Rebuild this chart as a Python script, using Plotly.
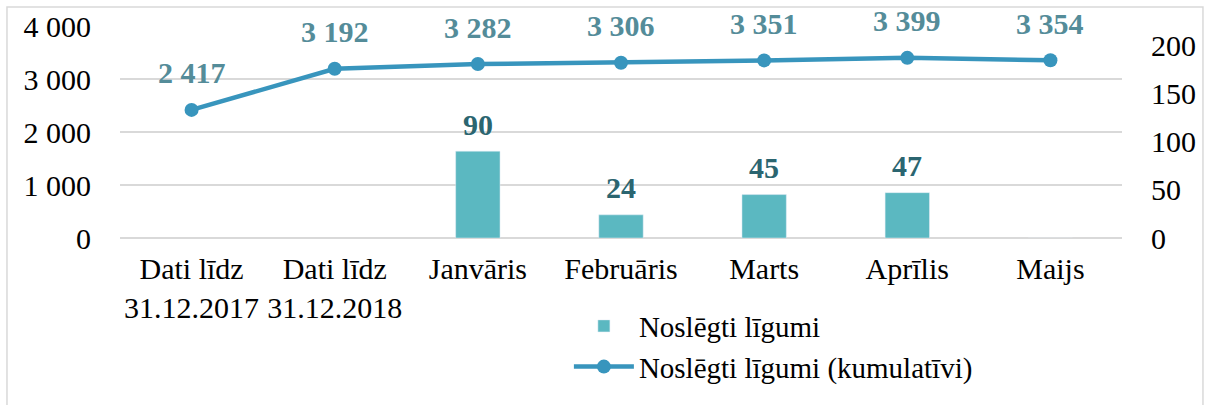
import plotly.graph_objects as go

categories = ["Dati līdz<br>31.12.2017", "Dati līdz<br>31.12.2018", "Janvāris",
              "Februāris", "Marts", "Aprīlis", "Maijs"]
monthly = [None, None, 90, 24, 45, 47, -1]
monthly_labels = ["", "", "90", "24", "45", "47", ""]
cumulative = [2417, 3192, 3282, 3306, 3351, 3399, 3354]
left_ticks = [0, 1000, 2000, 3000, 4000]
right_ticks = [0, 50, 100, 150, 200]

FONT = "Liberation Serif, Times New Roman, serif"
BAR_C = "#5bb8c1"
LINE_C = "#3895bd"
GRID_C = "#d9d9d9"

def fmt(v):
    return f"{v:,}".replace(",", "\u00a0")

fig = go.Figure()
fig.add_trace(go.Bar(
    x=categories, y=monthly, name="Noslēgti līgumi", marker_color=BAR_C,
    width=0.31, yaxis="y2",
))
fig.add_trace(go.Scatter(
    x=categories, y=cumulative, name="Noslēgti līgumi (kumulatīvi)",
    mode="lines+markers", line=dict(color=LINE_C, width=4.5),
    marker=dict(size=14, color=LINE_C), yaxis="y",
))

annotations = []
for c, v in zip(categories, cumulative):
    annotations.append(dict(x=c, y=v, xref="x", yref="y", text=f"<b>{fmt(v)}</b>",
                            showarrow=False, yshift=37,
                            font=dict(family=FONT, size=30, color="#548c99")))
for c, v, t in zip(categories, monthly, monthly_labels):
    if t:
        annotations.append(dict(x=c, y=v, xref="x", yref="y2", text=f"<b>{t}</b>",
                                showarrow=False, yshift=27,
                                font=dict(family=FONT, size=30, color="#2b6570")))

fig.update_layout(
    width=1211, height=405,
    margin=dict(l=120, r=89, t=26, b=167, autoexpand=False),
    paper_bgcolor="white", plot_bgcolor="white",
    font=dict(family=FONT, size=30, color="black"),
    showlegend=True,
    legend=dict(x=0.448, y=-0.295, xanchor="left", yanchor="top",
                font=dict(family=FONT, size=29), bgcolor="rgba(0,0,0,0)",
                tracegroupgap=0, itemwidth=60),
    xaxis=dict(showgrid=False, showline=False, zeroline=False,
               tickfont=dict(family=FONT, size=30), ticklabelstandoff=10),
    yaxis=dict(range=[0, 4000], tickvals=left_ticks,
               ticktext=[fmt(v) for v in left_ticks],
               showgrid=True, gridcolor=GRID_C, gridwidth=1.5,
               zeroline=True, zerolinecolor=GRID_C, zerolinewidth=1.5,
               showline=False, ticklabelstandoff=28,
               tickfont=dict(family=FONT, size=30)),
    yaxis2=dict(range=[0, 219.7], tickvals=right_ticks, overlaying="y", side="right",
                showgrid=False, zeroline=False, showline=False,
                ticklabelstandoff=28, tickfont=dict(family=FONT, size=30)),
    annotations=annotations,
    shapes=[dict(type="rect", xref="paper", yref="paper",
                 x0=-0.1128, x1=1.0808, y0=-0.84, y1=1.0896,
                 line=dict(color=GRID_C, width=1.5), layer="below")],
)

fig.write_html("out.html", config={"displayModeBar": False},
               post_script="document.body.style.margin='0';document.body.style.overflow='hidden';")
